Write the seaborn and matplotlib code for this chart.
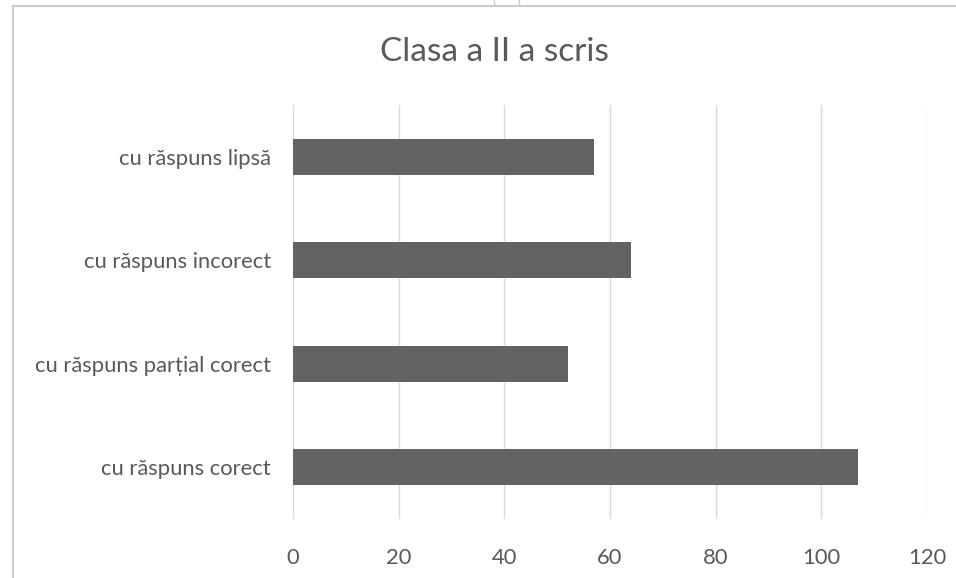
import pandas as pd
import seaborn as sns
import matplotlib.pyplot as plt
from matplotlib.patches import Rectangle

# Data
categories = ['cu răspuns lipsă', 'cu răspuns incorect',
              'cu răspuns parțial corect', 'cu răspuns corect']
values = [57, 64, 52, 107]
x_ticks = [0, 20, 40, 60, 80, 100, 120]

df = pd.DataFrame({'categorie': categories, 'elevi': values})

sns.set_style('white')
plt.rcParams['font.family'] = ['Lato', 'DejaVu Sans']

fig = plt.figure(figsize=(9.56, 5.78), dpi=100)
ax = fig.add_axes([0.3065, 0.102, 0.663, 0.716])

# light frame around the chart area
fig.patches.append(Rectangle((13 / 956, -0.1), 1.2, 1 - 6 / 578 + 0.1,
                             transform=fig.transFigure, fill=False,
                             edgecolor='#cccccc', linewidth=1.5))
for xp in (494, 519):
    fig.add_artist(plt.Line2D([xp / 956, xp / 956], [1 - 6 / 578, 1],
                              color='#cccccc', linewidth=1))

sns.barplot(data=df, x='elevi', y='categorie', orient='h', color='#636363',
            saturation=1, width=0.35, ax=ax, edgecolor='none')

ax.set_xlim(0, 120)
ax.set_xticks(x_ticks)
ax.set_ylim(3.5, -0.5)
ax.grid(axis='x', color='#d9d9d9', linewidth=1)
ax.set_axisbelow(True)
for s in ax.spines.values():
    s.set_visible(False)
ax.tick_params(axis='both', length=0, colors='#595959', labelsize=15.8)
ax.tick_params(axis='y', pad=16)
ax.tick_params(axis='x', pad=21)
ax.set_xlabel('')
ax.set_ylabel('')

fig.text(494 / 956, 1 - 52 / 578, 'Clasa a II a scris', ha='center',
         va='center', fontsize=24, color='#595959')

fig.savefig('out.png', dpi=100)
